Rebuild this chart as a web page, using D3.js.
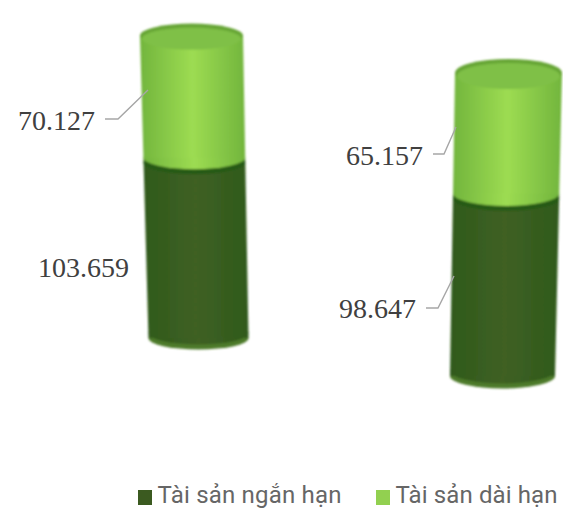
<!DOCTYPE html>
<html>
<head>
<meta charset="utf-8">
<script src="https://cdn.jsdelivr.net/npm/d3@7"></script>
<style>
    html, body { margin: 0; background: #fff; }
    svg { display: block; }
</style>
</head>
<body>
<div id="chart"></div>
<script>
const columns = ["A", "B"];
const seriesNames = ["Tài sản ngắn hạn", "Tài sản dài hạn"];
const shortTerm = [103.659, 98.647];
const longTerm = [70.127, 65.157];

const width = 563;
const height = 509;

// each cylinder sits at its own perspective: base, scale and lean differ
const layout = [
    { base: 338, k: 1.74, botX: 198.5, topX: 191.5, botR: 50, topR: 51.5, ry: 11.5, topRy: 12 },
    { base: 376, k: 1.85, botX: 502.5, topX: 508.5, botR: 52.5, topR: 53.5, ry: 12.5, topRy: 14 }
];

const colors = {
    dark: { edge: "#2f5a1b", mid: "#3f6024", cap: "#265a14", rim: "#4d7a2b" },
    light: { edge: "#72b53d", mid: "#9ddc52", cap: "#7fc046", rim: "#66a534" }
};

const svg = d3.select("#chart").append("svg")
    .attr("width", width)
    .attr("height", height)
    .attr("viewBox", [0, 0, width, height]);

const defs = svg.append("defs");
defs.append("filter").attr("id", "soft")
    .append("feGaussianBlur").attr("stdDeviation", 0.9);

Object.entries(colors).forEach(([name, c]) => {
    const grad = defs.append("linearGradient").attr("id", "grad-" + name);
    grad.append("stop").attr("offset", "0%").attr("stop-color", c.edge);
    grad.append("stop").attr("offset", "50%").attr("stop-color", c.mid);
    grad.append("stop").attr("offset", "100%").attr("stop-color", c.edge);
});

const rows = columns.map((col, i) => ({ col, short: shortTerm[i], long: longTerm[i] }));
const stacked = d3.stack().keys(["short", "long"])(rows);

columns.forEach((col, i) => {
    const l = layout[i];
    const total = shortTerm[i] + longTerm[i];
    const y = d3.scaleLinear().domain([0, total]).range([l.base, l.base - total * l.k]);
    const t = d3.scaleLinear().domain([0, total]).range([0, 1]);
    const cx = v => d3.interpolateNumber(l.botX, l.topX)(t(v));
    const rx = v => d3.interpolateNumber(l.botR, l.topR)(t(v));

    const g = svg.append("g").attr("filter", "url(#soft)");
    const segment = (v0, v1, name) => {
        const c = colors[name];
        const path = d3.path();
        path.moveTo(cx(v0) - rx(v0), y(v0));
        path.lineTo(cx(v1) - rx(v1), y(v1));
        path.lineTo(cx(v1) + rx(v1), y(v1));
        path.lineTo(cx(v0) + rx(v0), y(v0));
        path.closePath();
        g.append("ellipse")
            .attr("cx", cx(v0)).attr("cy", y(v0))
            .attr("rx", rx(v0)).attr("ry", l.ry)
            .attr("fill", name === "dark" ? c.rim : `url(#grad-${name})`);
        if (name === "dark") {
            // the base shows as a lighter band under the body
            g.append("ellipse")
                .attr("cx", cx(v0)).attr("cy", y(v0) - 5)
                .attr("rx", rx(v0)).attr("ry", l.ry)
                .attr("fill", `url(#grad-${name})`);
        }
        g.append("path").attr("d", path.toString()).attr("fill", `url(#grad-${name})`);
    };

    const [d0, d1] = stacked[0][i];
    const [l0, l1] = stacked[1][i];
    segment(d0, d1, "dark");
    // top cap of the dark part only shows below the curve of the light part
    g.append("ellipse")
        .attr("cx", cx(d1)).attr("cy", y(d1) + 5)
        .attr("rx", rx(d1)).attr("ry", l.ry)
        .attr("fill", colors.dark.cap);
    segment(l0, l1, "light");
    g.append("ellipse")
        .attr("cx", cx(l1)).attr("cy", y(l1))
        .attr("rx", rx(l1)).attr("ry", l.topRy)
        .attr("fill", colors.light.rim);
    g.append("ellipse")
        .attr("cx", cx(l1)).attr("cy", y(l1) + 3)
        .attr("rx", rx(l1) - 2).attr("ry", l.topRy - 1)
        .attr("fill", colors.light.cap);
});

// data labels and their leader lines
const fmt = v => v.toFixed(3);
const labels = [
    { value: longTerm[0], x: 95, y: 120, line: [[105, 119], [118, 119], [148, 90]] },
    { value: shortTerm[0], x: 129, y: 267, line: null },
    { value: longTerm[1], x: 423, y: 155, line: [[433, 154], [444, 154], [456, 127]] },
    { value: shortTerm[1], x: 416, y: 308, line: [[426, 308], [438, 308], [454, 276]] }
];

svg.selectAll(".leader")
    .data(labels.filter(d => d.line))
    .enter().append("path")
    .attr("class", "leader")
    .attr("d", d => d3.line()(d.line))
    .attr("fill", "none")
    .attr("stroke", "#a6a6a6")
    .attr("stroke-width", 1.4);

svg.selectAll(".value")
    .data(labels)
    .enter().append("text")
    .attr("class", "value")
    .attr("x", d => d.x)
    .attr("y", d => d.y)
    .attr("dy", "0.35em")
    .attr("text-anchor", "end")
    .attr("font-family", "'Liberation Serif', serif")
    .attr("font-size", 28)
    .attr("fill", "#404040")
    .text(d => fmt(d.value));

// legend
const legendX = [138, 376];
const legend = svg.selectAll(".legend")
    .data(seriesNames)
    .enter().append("g")
    .attr("class", "legend")
    .attr("transform", (d, i) => `translate(${legendX[i]},490)`);

legend.append("rect")
    .attr("width", 14)
    .attr("height", 15)
    .attr("fill", (d, i) => i === 0 ? "#3b5a20" : "#92d050");

legend.append("text")
    .attr("x", 19.5)
    .attr("y", 13)
    .attr("font-family", "Roboto, sans-serif")
    .attr("font-size", 24)
    .attr("textLength", (d, i) => i === 0 ? 184 : 162)
    .attr("fill", "#666")
    .text(d => d);
</script>
</body>
</html>
